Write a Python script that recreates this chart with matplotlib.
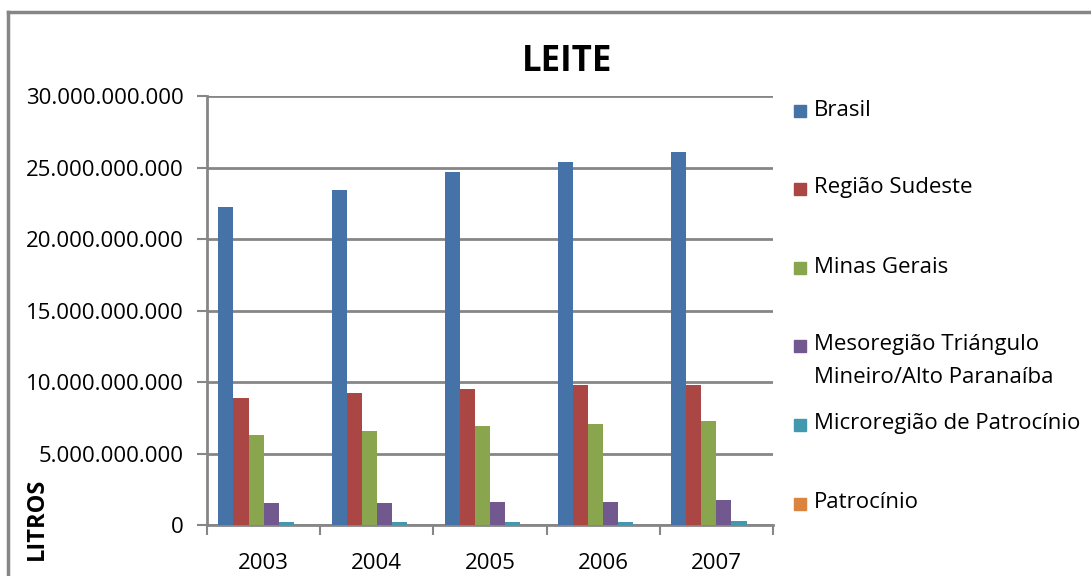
import matplotlib
matplotlib.use("Agg")
import matplotlib.pyplot as plt
import numpy as np
from matplotlib.lines import Line2D
from matplotlib.patches import Rectangle

plt.rcParams['font.family'] = ['Open Sans', 'DejaVu Sans']

years = ['2003', '2004', '2005', '2006', '2007']
series_names = ['Brasil', 'Região Sudeste', 'Minas Gerais',
                'Mesoregião Triángulo\nMineiro/Alto Paranaíba',
                'Microregião de Patrocínio', 'Patrocínio']
brasil = [22.25e9, 23.44e9, 24.71e9, 25.41e9, 26.11e9]
sudeste = [8.88e9, 9.23e9, 9.51e9, 9.79e9, 9.79e9]
minas = [6.29e9, 6.57e9, 6.92e9, 7.06e9, 7.27e9]
meso = [1.54e9, 1.54e9, 1.61e9, 1.61e9, 1.75e9]
micro = [0.23e9, 0.23e9, 0.23e9, 0.23e9, 0.28e9]
patrocinio = [0.01e9, 0.01e9, 0.01e9, 0.01e9, 0.01e9]
yticks = [0, 5e9, 10e9, 15e9, 20e9, 25e9, 30e9]

colors = ['#4572A7', '#AA4643', '#89A54E', '#71588F', '#4198AF', '#DB843D']
grid_col = '#868686'

fig = plt.figure(figsize=(10.91, 5.76), dpi=100)
ax = fig.add_axes([207/1091, 1 - 525/576, (773 - 207)/1091, (525 - 96)/576])

data = [brasil, sudeste, minas, meso, micro, patrocinio]
n = len(data)
w = 1 / 7.5
x = np.arange(len(years))
for i, vals in enumerate(data):
    off = (i - (n - 1) / 2) * w
    ax.bar(x + off, vals, width=w, color=colors[i], zorder=3)

ax.set_xlim(-0.5, len(years) - 0.5)
ax.set_ylim(0, 30e9)
ax.set_yticks(yticks)
ax.set_yticklabels(['{:,.0f}'.format(v).replace(',', '.') for v in yticks])
ax.set_xticks(np.arange(-0.5, len(years), 1.0))
ax.set_xticklabels([])
ax.set_xticks(x, minor=True)
ax.set_xticklabels(years, minor=True)
ax.tick_params(axis='x', which='major', length=7, width=1.5, color=grid_col,
               direction='out')
ax.tick_params(axis='x', which='minor', length=0, pad=20, labelsize=16)
ax.tick_params(axis='y', length=7, width=1.5, color=grid_col, labelsize=16,
               pad=10)
ax.yaxis.grid(True, color=grid_col, linewidth=2, zorder=0)
for s in ['top', 'right']:
    ax.spines[s].set_visible(False)
for s in ['left', 'bottom']:
    ax.spines[s].set_color(grid_col)
    ax.spines[s].set_linewidth(2)

fig.text(567/1091, 1 - 62/576, 'LEITE', fontsize=25, fontweight='bold',
         ha='center', va='center')
fig.text(37/1091, 1 - 519/576, 'LITROS', fontsize=17, fontweight='bold',
         rotation=90, ha='center', va='center')

# legend, laid out by hand like the Excel one
leg_y = [110, 188, 267, 361, 424, 503]
box_y = [111, 189, 268, 346, 425, 504]
for name, col, yy, by in zip(series_names, colors, leg_y, box_y):
    fig.patches.append(Rectangle((794/1091, 1 - (by + 6)/576), 12/1091, 12/576,
                                 transform=fig.transFigure, color=col))
    fig.text(814/1091, 1 - yy/576, name, fontsize=16, ha='left', va='center',
             linespacing=1.7)

# outer chart border
fig.add_artist(Line2D([8/1091, 1], [1 - 12/576, 1 - 12/576],
                      transform=fig.transFigure, color=grid_col, linewidth=2.5))
fig.add_artist(Line2D([8/1091, 8/1091], [0, 1 - 12/576],
                      transform=fig.transFigure, color=grid_col, linewidth=2.5))

fig.savefig('out.png', dpi=100)
